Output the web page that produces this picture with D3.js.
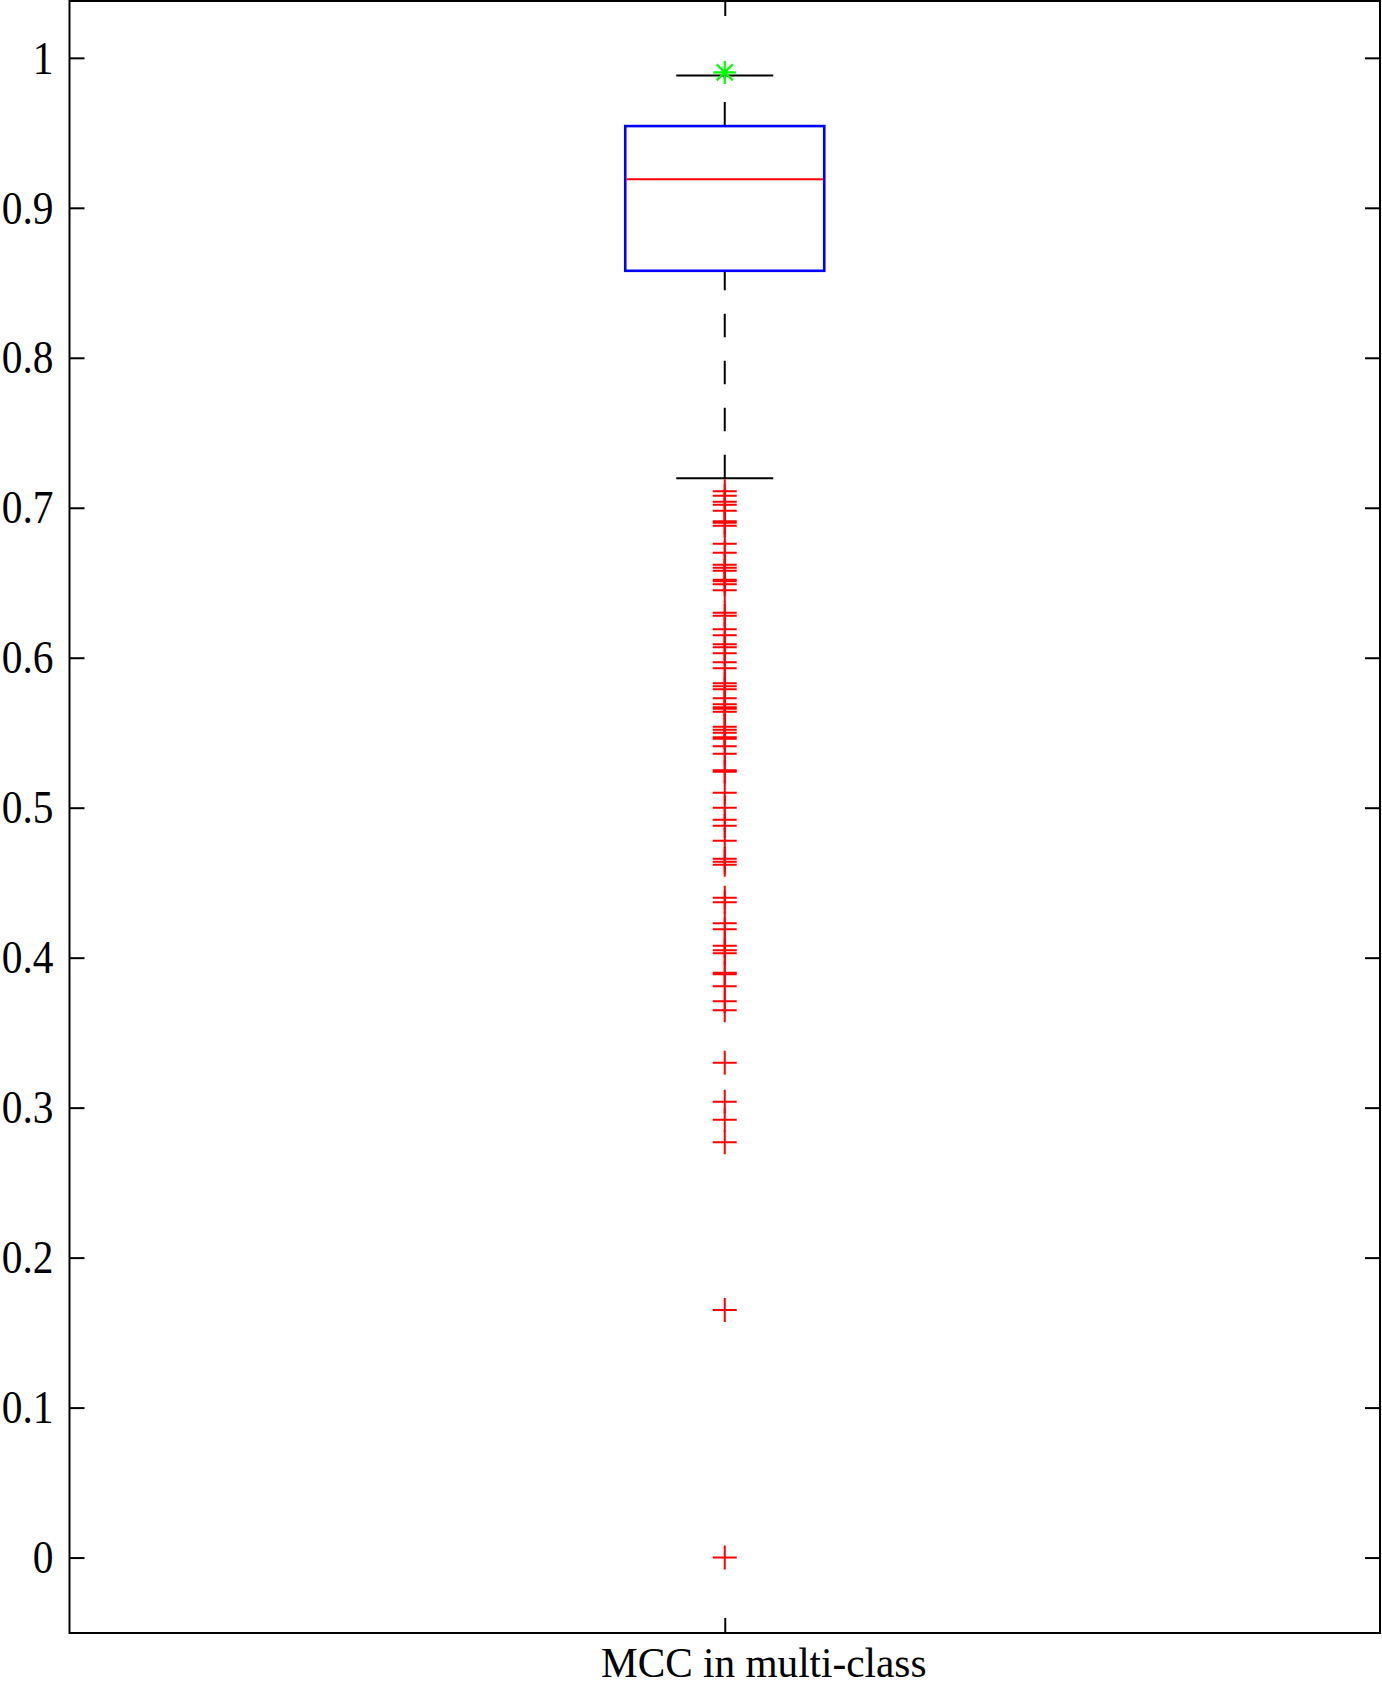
<!DOCTYPE html>
<html>
<head>
<meta charset="utf-8">
<script src="https://cdn.jsdelivr.net/npm/d3@7"></script>
<style>
  html, body { margin: 0; padding: 0; background: #ffffff; }
  svg { display: block; }
  text { font-family: "Liberation Serif", "Times New Roman", serif; fill: #000; }
</style>
</head>
<body>
<svg id="chart" width="1382" height="1686"></svg>
<script>
// ---------- data ----------
const categories = ["MCC in multi-class"];
const quartiles = [0.858, 0.919, 0.9545];      // q1, median, q3
const whiskers = [0.7196, 0.9883];             // lower, upper
const bestPoint = [0.9903];                    // green star
const outliers = [
  0.711, 0.708, 0.704, 0.702, 0.698, 0.691, 0.690, 0.688, 0.676, 0.670,
  0.662, 0.660, 0.658, 0.652, 0.651, 0.649, 0.645, 0.630, 0.628, 0.619,
  0.615, 0.609, 0.607, 0.603, 0.597, 0.593, 0.583, 0.581, 0.579, 0.573,
  0.569, 0.567, 0.566, 0.564, 0.554, 0.552, 0.550, 0.547, 0.546, 0.541,
  0.536, 0.525, 0.524, 0.510, 0.500, 0.492, 0.488, 0.478, 0.466, 0.464,
  0.462, 0.440, 0.437, 0.423, 0.419, 0.408, 0.405, 0.403, 0.390, 0.389,
  0.381, 0.371, 0.365, 0.330, 0.304, 0.292, 0.277, 0.165, 0.000
];
const yTickValues = [0, 0.1, 0.2, 0.3, 0.4, 0.5, 0.6, 0.7, 0.8, 0.9, 1];
const yTickLabels = ["0", "0.1", "0.2", "0.3", "0.4", "0.5", "0.6", "0.7", "0.8", "0.9", "1"];
const yDomain = [-0.0503, 1.0379];

// ---------- layout ----------
const W = 1382, H = 1686;
const margin = { top: 1, right: 2, bottom: 53, left: 69.5 };
const plotBottom = H - margin.bottom;
const plotRight = W - margin.right;

const svg = d3.select("#chart");

const x = d3.scalePoint()
  .domain(categories)
  .range([margin.left, plotRight])
  .padding(0.5);

const y = d3.scaleLinear()
  .domain(yDomain)
  .range([plotBottom, margin.top]);

const boxW = 199;
const capW = 97;
const tickLen = 15;
const labelSquash = 0.9;

// ---------- axes ----------
const yLeft = d3.axisLeft(y)
  .tickValues(yTickValues)
  .tickFormat((d, i) => yTickLabels[i])
  .tickSizeInner(-tickLen)
  .tickSizeOuter(0)
  .tickPadding(16);

const gL = svg.append("g")
  .attr("transform", `translate(${margin.left},0)`)
  .call(yLeft);
gL.select(".domain").remove();
gL.selectAll(".tick line").attr("stroke", "#000").attr("stroke-width", 2);
gL.selectAll(".tick text")
  .attr("font-size", 46)
  .attr("font-family", "'Liberation Serif', 'Times New Roman', serif")
  .attr("x", -16 / labelSquash)
  .attr("transform", `scale(${labelSquash},1)`)
  .attr("dy", "0.33em");

const yRight = d3.axisRight(y)
  .tickValues(yTickValues)
  .tickFormat("")
  .tickSizeInner(-tickLen)
  .tickSizeOuter(0);
const gR = svg.append("g")
  .attr("transform", `translate(${plotRight},0)`)
  .call(yRight);
gR.select(".domain").remove();
gR.selectAll(".tick line").attr("stroke", "#000").attr("stroke-width", 2);

const xBottom = d3.axisBottom(x)
  .tickSizeInner(-tickLen)
  .tickSizeOuter(0)
  .tickFormat("");
const gB = svg.append("g")
  .attr("transform", `translate(0,${plotBottom})`)
  .call(xBottom);
gB.select(".domain").remove();
gB.selectAll(".tick line").attr("stroke", "#000").attr("stroke-width", 2);

const xTop = d3.axisTop(x)
  .tickSizeInner(-tickLen)
  .tickSizeOuter(0)
  .tickFormat("");
const gT = svg.append("g")
  .attr("transform", `translate(0,${margin.top})`)
  .call(xTop);
gT.select(".domain").remove();
gT.selectAll(".tick line").attr("stroke", "#000").attr("stroke-width", 2);

// frame
svg.append("rect")
  .attr("x", margin.left)
  .attr("y", margin.top)
  .attr("width", plotRight - margin.left)
  .attr("height", plotBottom - margin.top)
  .attr("fill", "none")
  .attr("stroke", "#000")
  .attr("stroke-width", 2);

// x label
svg.selectAll(".xlabel")
  .data(categories)
  .enter().append("text")
  .attr("class", "xlabel")
  .attr("x", d => (x(d) + 39) / 0.96)
  .attr("y", H - 9)
  .attr("transform", "scale(0.96,1)")
  .attr("text-anchor", "middle")
  .attr("font-size", 43)
  .text(d => d);

// ---------- box plot ----------
const g = svg.append("g");
categories.forEach(cat => {
  const cx = x(cat);
  const [q1, med, q3] = quartiles;
  const [lo, hi] = whiskers;

  // dashed whiskers
  g.append("line")
    .attr("x1", cx).attr("x2", cx)
    .attr("y1", y(q3)).attr("y2", y(hi))
    .attr("stroke", "#000").attr("stroke-width", 2)
    .attr("stroke-dasharray", "24,23.5");
  g.append("line")
    .attr("x1", cx).attr("x2", cx)
    .attr("y1", y(lo)).attr("y2", y(q1))
    .attr("stroke", "#000").attr("stroke-width", 2)
    .attr("stroke-dasharray", "23.5,23.5");

  // whisker caps
  whiskers.forEach(v => {
    g.append("line")
      .attr("x1", cx - capW / 2).attr("x2", cx + capW / 2)
      .attr("y1", y(v)).attr("y2", y(v))
      .attr("stroke", "#000").attr("stroke-width", 2);
  });

  // box
  g.append("rect")
    .attr("x", cx - boxW / 2)
    .attr("y", y(q3))
    .attr("width", boxW)
    .attr("height", y(q1) - y(q3))
    .attr("fill", "none")
    .attr("stroke", "#0000ff")
    .attr("stroke-width", 2.6);

  // median
  g.append("line")
    .attr("x1", cx - boxW / 2 + 1.3).attr("x2", cx + boxW / 2 - 1.3)
    .attr("y1", y(med)).attr("y2", y(med))
    .attr("stroke", "#ff0000").attr("stroke-width", 2);

  // outliers (red +)
  const m = 12;
  const og = g.append("g").attr("stroke", "#ff0000").attr("stroke-width", 2);
  og.selectAll("path")
    .data(outliers)
    .enter().append("path")
    .attr("d", d => `M${cx - m},${y(d)}H${cx + m}M${cx},${y(d) - m}V${y(d) + m}`)
    .attr("fill", "none");

  // green star
  const s = 11.5, sd = 8;
  const sg = g.append("g").attr("stroke", "#00ff00").attr("stroke-width", 2.2);
  sg.selectAll("path")
    .data(bestPoint)
    .enter().append("path")
    .attr("d", d => {
      const py = y(d);
      return `M${cx - s},${py}H${cx + s}M${cx},${py - s}V${py + s}` +
             `M${cx - sd},${py - sd}L${cx + sd},${py + sd}M${cx - sd},${py + sd}L${cx + sd},${py - sd}`;
    })
    .attr("fill", "none");
});
</script>
</body>
</html>
